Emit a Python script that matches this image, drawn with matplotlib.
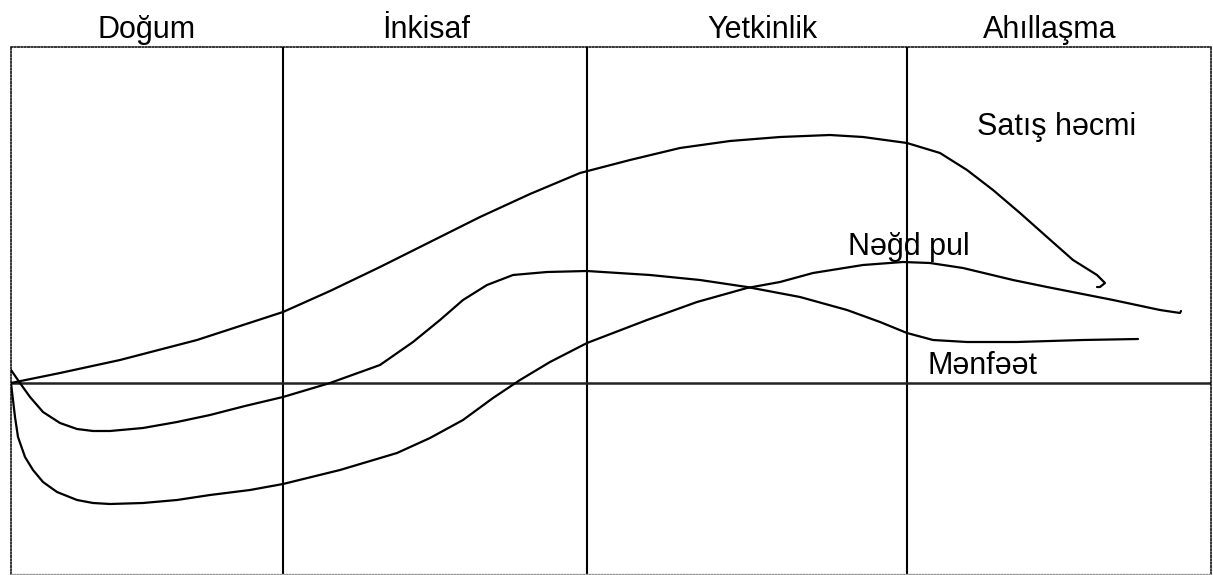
import matplotlib
matplotlib.use("Agg")
import matplotlib.pyplot as plt

plt.rcParams['font.family'] = ['Liberation Sans', 'DejaVu Sans']

# Stage labels (top) and their centres along the time axis
stages = ["Doğum", "İnkisaf", "Yetkinlik", "Ahıllaşma"]
stage_centers = [136, 415, 751, 1039]
# Stage boundaries along the time axis
boundaries = [272, 576, 896]

# Curve: Satış həcmi (sales volume)
sales_x = [0, 49, 109, 186, 272, 319, 369, 419, 469, 519, 569, 619, 669, 719, 769,
           819, 852, 896, 929, 956, 982, 1009, 1036, 1062, 1086, 1094, 1089, 1086]
sales_y = [0, 10, 23, 43, 71, 92, 116, 141, 166, 189, 210, 223, 235, 242, 246,
           248, 246, 240, 230, 213, 193, 170, 146, 123, 108, 100, 96, 96]

# Curve with shallow dip, ending near "Mənfəət"
b_x = [0, 9, 19, 32, 49, 66, 82, 99, 132, 166, 199, 234, 272, 319, 369, 402, 429,
       452, 476, 502, 536, 576, 639, 689, 736, 789, 836, 869, 896, 922, 956, 1006,
       1072, 1127]
b_y = [13, 0, -14, -29, -40, -46, -48, -48, -45, -39, -32, -23, -14, 0, 18, 41, 63,
       83, 98, 108, 111, 112, 108, 103, 96, 86, 73, 61, 50, 43, 41, 41, 43, 44]

# Curve with deep dip, peaking near "Nəğd pul"
c_x = [0, 2, 4, 7, 14, 22, 32, 46, 66, 82, 99, 132, 166, 199, 239, 272, 329, 386,
       419, 452, 482, 509, 539, 576, 636, 686, 736, 769, 802, 852, 892, 919, 952,
       1002, 1036, 1102, 1149, 1169, 1170]
c_y = [0, -17, -34, -54, -74, -87, -99, -109, -117, -120, -121, -120, -117, -112,
       -107, -101, -87, -70, -55, -37, -15, 3, 21, 40, 63, 81, 95, 101, 110, 118,
       121, 120, 115, 103, 96, 83, 73, 70, 72]

# Curve labels: (text, x, y, alignment)
curve_labels = [("Satış həcmi", 1046, 248, 'center'),
                ("Nəğd pul", 837, 128, 'left'),
                ("Mənfəət", 917, 9, 'left')]

W, H = 1213, 575
fig = plt.figure(figsize=(W / 100, H / 100), dpi=100)
left_px, right_px, top_px, bot_px = 11, 1211, 47, 574
ax = fig.add_axes([left_px / W, (H - bot_px) / H,
                   (right_px - left_px) / W, (bot_px - top_px) / H])
ax.set_xlim(0, 1200)
ax.set_ylim(383 - bot_px, 383 - top_px)
ax.set_xticks([])
ax.set_yticks([])

for side in ['top', 'left', 'right']:
    ax.spines[side].set_linestyle((0, (1, 1.2)))
    ax.spines[side].set_color('black')
    ax.spines[side].set_linewidth(1.1)
ax.spines['bottom'].set_linestyle((0, (1, 1.2)))
ax.spines['bottom'].set_color('#999999')
ax.spines['bottom'].set_linewidth(1.0)

for b in boundaries:
    ax.axvline(b, color='black', lw=1.5)
ax.axhline(0, color='#222222', lw=1.8)

for xs, ys in [(sales_x, sales_y), (b_x, b_y), (c_x, c_y)]:
    ax.plot(xs, ys, color='black', lw=1.6, solid_joinstyle='round',
            solid_capstyle='round', antialiased=True)

for s, cx in zip(stages, stage_centers):
    ax.text(cx, 383 - 38, s, ha='center', va='baseline', fontsize=22,
            clip_on=False)

for s, x, y, ha in curve_labels:
    ax.text(x, y, s, ha=ha, va='baseline', fontsize=22)

fig.savefig("out.png", dpi=100)
